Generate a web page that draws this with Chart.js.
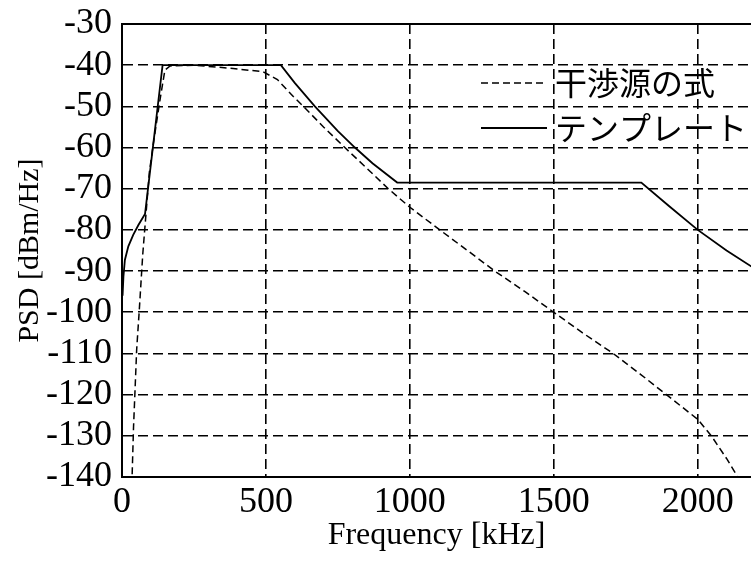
<!DOCTYPE html>
<html>
<head>
<meta charset="utf-8">
<script src="https://cdn.jsdelivr.net/npm/chart.js@4/dist/chart.umd.min.js"></script>
<style>
  html, body { margin: 0; padding: 0; background: #fff; }
  #wrap { width: 751px; height: 567px; }
</style>
</head>
<body>
<div id="wrap"><canvas id="psd-chart"></canvas></div>
<script>
const ctx = document.getElementById('psd-chart').getContext('2d');

// template (solid)
let templateFreq = [2, 5, 10, 22, 39, 57, 80, 141, 552, 600, 670, 750, 809, 870, 956, 1804, 1900, 2000, 2100, 2200];
let templatePsd = [-96, -91.3, -87.3, -84, -81.2, -78.8, -76.1, -40, -40, -44.3, -50, -56, -60, -63.8, -68.5, -68.5, -74.2, -80, -85, -89.5];

// interferer formula (dashed)
let sourceFreq = [33, 35, 40, 51, 60, 72, 80, 95, 109, 132, 149, 167, 250, 386, 490, 540, 595, 630, 700, 774, 850, 925, 1000, 1104, 1200, 1295, 1400, 1500, 1600, 1706, 1800, 1891, 2000, 2047, 2100, 2139, 2200];
let sourcePsd = [-150, -140, -128, -109, -99.5, -86, -79, -66, -59, -48.4, -41.2, -40.2, -40, -40.8, -41.6, -43.5, -47.6, -50, -55, -60, -65, -70, -74.5, -80, -85, -90, -95, -100, -105, -110, -115, -120, -126, -130, -135.5, -140, -148];

let seriesNames = ['干渉源の式', 'テンプレート'];
let xTicks = [0, 500, 1000, 1500, 2000];

function toPoints(xs, ys) {
    return xs.map((x, i) => ({x: x, y: ys[i]}));
}

// legend drawn inside the plot, no box
const innerLegend = {
    id: 'innerLegend',
    afterDatasetsDraw(chart) {
        const c = chart.ctx;
        const rows = [83, 128];
        c.save();
        chart.data.datasets.forEach((ds, i) => {
            c.strokeStyle = ds.borderColor;
            c.lineWidth = ds.borderWidth;
            c.setLineDash(ds.borderDash || []);
            c.beginPath();
            c.moveTo(481, rows[i]);
            c.lineTo(547, rows[i]);
            c.stroke();
            c.setLineDash([]);
            c.fillStyle = '#000';
            c.font = '32px "Noto Sans CJK JP"';
            c.textBaseline = 'middle';
            c.textAlign = 'left';
            c.fillText(ds.label, 555, rows[i]);
        });
        c.restore();
    }
};

// solid top frame line
const topFrame = {
    id: 'topFrame',
    afterDraw(chart) {
        const a = chart.chartArea;
        const c = chart.ctx;
        c.save();
        c.strokeStyle = '#000';
        c.lineWidth = 2;
        c.beginPath();
        c.moveTo(a.left, a.top);
        c.lineTo(a.right, a.top);
        c.stroke();
        c.restore();
    }
};

let psdChart = new Chart(ctx, {
    type: 'line',
    data: {
        datasets: [{
            label: seriesNames[0],
            data: toPoints(sourceFreq, sourcePsd),
            borderColor: '#000',
            borderWidth: 1.5,
            borderDash: [7, 4],
            pointRadius: 0,
            fill: false
        }, {
            label: seriesNames[1],
            data: toPoints(templateFreq, templatePsd),
            borderColor: '#000',
            borderWidth: 1.8,
            pointRadius: 0,
            fill: false
        }]
    },
    options: {
        responsive: true,
        maintainAspectRatio: false,
        animation: false,
        layout: { padding: { top: 24, right: 0, left: 0, bottom: 0 } },
        plugins: {
            legend: { display: false },
            tooltip: { enabled: false }
        },
        scales: {
            x: {
                type: 'linear',
                min: 0,
                max: 2185,
                afterBuildTicks: (scale) => {
                    scale.ticks = xTicks.map(v => ({value: v}));
                },
                afterFit: (scale) => { scale.height = 90; },
                ticks: {
                    color: '#000',
                    padding: 4,
                    maxRotation: 0,
                    autoSkip: false,
                    callback: (v) => String(v),
                    font: { family: 'Liberation Serif', size: 36 }
                },
                grid: { color: '#000', lineWidth: 1.6, drawTicks: false },
                border: { color: '#000', width: 2, dash: [10, 5] },
                title: {
                    display: true,
                    text: 'Frequency [kHz]',
                    color: '#000',
                    padding: { top: 0, bottom: 12 },
                    font: { family: 'Liberation Serif', size: 32 }
                }
            },
            y: {
                min: -140,
                max: -30,
                afterFit: (scale) => { scale.width = 122; },
                ticks: {
                    stepSize: 10,
                    color: '#000',
                    padding: 10,
                    autoSkip: false,
                    font: { family: 'Liberation Serif', size: 36, lineHeight: 0.3 }
                },
                grid: { color: '#000', lineWidth: 1.6, drawTicks: false },
                border: { color: '#000', width: 2, dash: [10, 5] },
                title: {
                    display: true,
                    text: 'PSD [dBm/Hz]',
                    color: '#000',
                    padding: { top: 12, bottom: 0 },
                    font: { family: 'Liberation Serif', size: 30 }
                }
            }
        }
    },
    plugins: [innerLegend, topFrame]
});
</script>
</body>
</html>
